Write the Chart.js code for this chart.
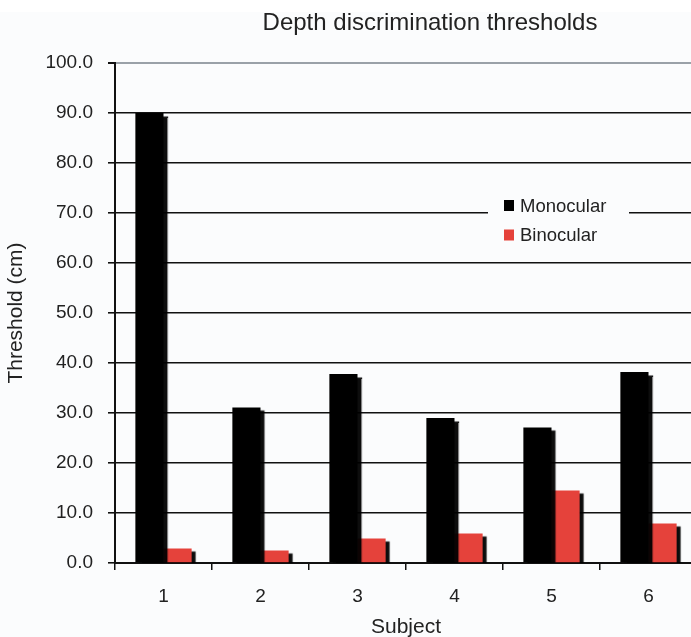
<!DOCTYPE html>
<html>
<head>
<meta charset="utf-8">
<script src="https://cdn.jsdelivr.net/npm/chart.js@4.4.1/dist/chart.umd.min.js"></script>
<style>
  html, body { margin: 0; padding: 0; width: 691px; height: 637px; overflow: hidden; background: #fbfcfd; }
  #topband { position: absolute; left: 0; top: 0; width: 691px; height: 12px; background: #ffffff; }
  #wrap { position: absolute; left: 0; top: 0; width: 860px; height: 640px; }
</style>
</head>
<body>
<div id="topband"></div>
<div id="wrap"><canvas id="c" width="860" height="640"></canvas></div>
<script>
// Subjects and the depth thresholds (cm) measured for each viewing condition
const subjects = ['1', '2', '3', '4', '5', '6'];
const monocular = [90.0, 31.1, 37.8, 29.0, 27.1, 38.2];
const binocular = [2.9, 2.5, 4.9, 5.9, 14.5, 7.9];
const seriesNames = ['Monocular', 'Binocular'];
const chartTitle = 'Depth discrimination thresholds';
const yMin = 0, yMax = 100, yStep = 10;

const FONT = '"Liberation Sans", Arial, Helvetica, sans-serif';
const TEXT = '#222222';

// Offset drop shadow under the bars
const barShadow = {
  id: 'barShadow',
  beforeDatasetsDraw(chart) {
    const ctx = chart.ctx;
    ctx.save();
    ctx.shadowColor = 'rgba(0,0,0,0.95)';
    ctx.shadowOffsetX = 4;
    ctx.shadowOffsetY = 3;
    ctx.shadowBlur = 1;
  },
  afterDatasetsDraw(chart) {
    chart.ctx.restore();
  }
};

// Heading, centred a little right of the plot's middle
const heading = {
  id: 'heading',
  afterDraw(chart) {
    const ctx = chart.ctx;
    ctx.save();
    ctx.font = '24px ' + FONT;
    ctx.fillStyle = TEXT;
    ctx.textAlign = 'center';
    ctx.textBaseline = 'middle';
    ctx.fillText(chartTitle, 430, 23);
    ctx.restore();
  }
};

// Legend box sitting inside the plot, over the grid lines
const insetLegend = {
  id: 'insetLegend',
  afterDraw(chart) {
    const ctx = chart.ctx;
    const x0 = 488, y0 = 190, w = 141, h = 58;
    ctx.save();
    ctx.fillStyle = '#fbfcfd';
    ctx.fillRect(x0, y0, w, h);
    ctx.font = '18.5px ' + FONT;
    ctx.textBaseline = 'middle';
    chart.data.datasets.forEach((ds, i) => {
      const cy = 205.5 + i * 29.5;
      ctx.fillStyle = ds.backgroundColor;
      ctx.fillRect(504, cy - 5.5, 10, 11);
      ctx.fillStyle = TEXT;
      ctx.fillText(ds.label, 520, cy + 1);
    });
    ctx.restore();
  }
};

new Chart(document.getElementById('c'), {
  type: 'bar',
  data: {
    labels: subjects,
    datasets: [
      { label: seriesNames[0], data: monocular, backgroundColor: '#000000' },
      { label: seriesNames[1], data: binocular, backgroundColor: '#e5423b' }
    ]
  },
  options: {
    responsive: false,
    animation: false,
    devicePixelRatio: 1,
    layout: { padding: { left: 0, right: 163, top: 63, bottom: 0 } },
    datasets: { bar: { categoryPercentage: 0.58, barPercentage: 1.0 } },
    plugins: {
      legend: { display: false },
      tooltip: { enabled: false },
      title: { display: false }
    },
    scales: {
      x: {
        offset: true,
        grid: {
          offset: true,
          drawOnChartArea: false,
          drawTicks: true,
          tickLength: 7,
          tickColor: '#111111',
          lineWidth: 1.5
        },
        border: { display: true, color: '#111111', width: 2 },
        ticks: { color: TEXT, font: { family: FONT, size: 19 }, padding: 15 },
        title: {
          display: true,
          text: 'Subject',
          color: TEXT,
          font: { family: FONT, size: 21 },
          padding: { top: 0, bottom: 0 }
        },
        afterFit(scale) { scale.height = 77; }
      },
      y: {
        min: yMin,
        max: yMax,
        grid: {
          color: (c) => (c.tick && c.tick.value === yMax ? '#9aa1a8' : '#111111'),
          lineWidth: (c) => (c.tick && c.tick.value === yMax ? 2 : 1.6),
          tickColor: '#111111',
          tickLength: 7
        },
        border: { display: true, color: '#111111', width: 2 },
        ticks: {
          stepSize: yStep,
          color: TEXT,
          font: { family: FONT, size: 19 },
          padding: 15,
          callback: (v) => Number(v).toFixed(1)
        },
        title: {
          display: true,
          text: 'Threshold (cm)',
          color: TEXT,
          font: { family: FONT, size: 21 },
          padding: { top: 4, bottom: 0 }
        },
        afterFit(scale) { scale.width = 115; }
      }
    }
  },
  plugins: [barShadow, heading, insetLegend]
});
</script>
</body>
</html>
